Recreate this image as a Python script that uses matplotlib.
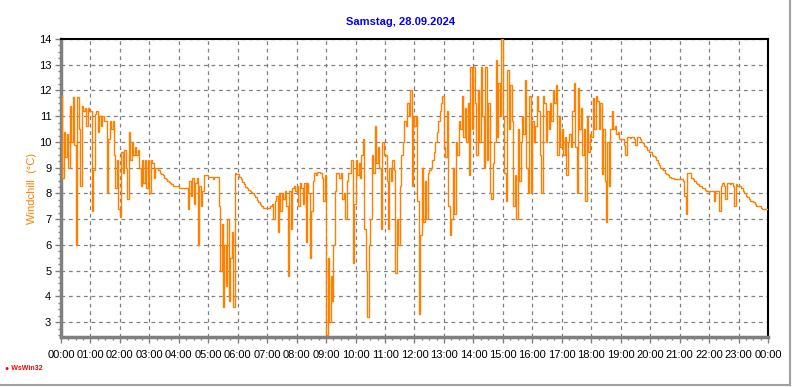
import numpy as np
import matplotlib
matplotlib.use("Agg")
import matplotlib.pyplot as plt
from matplotlib.lines import Line2D
from matplotlib.ticker import MultipleLocator

plt.rcParams["font.family"] = ["Liberation Sans", "DejaVu Sans"]

title = "Samstag, 28.09.2024"
ylabel = "Windchill  (°C)"
logo = "WsWin32"
xtick_labels = [f"{h:02d}:00" for h in range(24)] + ["00:00"]
ytick_values = list(range(3, 15))
step_minutes = 3

# Windchill readings (°C), one value per 3 minutes, grouped by hour
h00 = [11.8, 8.6, 10.4, 9.4, 10.3, 9.0, 11.4, 10.0, 11.75, 9.9, 6.0, 11.75, 10.5, 8.3, 11.4, 11.2, 11.3, 10.6, 11.3, 11.2]
h01 = [11.2, 7.3, 8.9, 11.1, 11.2, 10.4, 11.0, 10.6, 11.0, 10.8, 10.8, 8.0, 10.1, 10.8, 10.5, 10.8, 9.5, 8.2, 9.3, 7.4]
h02 = [7.1, 9.6, 8.8, 9.7, 9.0, 7.8, 10.4, 9.3, 10.0, 9.5, 9.8, 9.5, 9.7, 9.0, 8.3, 9.3, 8.4, 9.3, 8.2, 9.3]
h03 = [8.0, 9.3, 9.2, 8.6, 9.0, 9.0, 8.9, 8.8, 8.75, 8.7, 8.6, 8.55, 8.5, 8.45, 8.4, 8.35, 8.3, 8.3, 8.3, 8.3]
h04 = [8.2, 8.2, 8.2, 8.2, 8.2, 8.2, 7.4, 8.5, 7.9, 8.6, 7.6, 8.4, 8.6, 6.0, 8.3, 7.5, 8.1, 8.7, 8.7, 8.7]
h05 = [8.65, 8.65, 8.65, 8.55, 8.65, 8.65, 8.65, 7.5, 5.0, 6.8, 3.6, 6.0, 4.4, 7.0, 3.8, 5.5, 6.5, 3.6, 8.8, 8.75]
h06 = [8.75, 8.65, 8.55, 8.45, 8.35, 8.25, 8.2, 8.15, 8.1, 8.05, 8.0, 7.95, 7.85, 7.75, 7.65, 7.6, 7.5, 7.45, 7.45, 7.45]
h07 = [7.45, 7.45, 7.5, 7.6, 7.0, 7.7, 7.9, 6.5, 8.0, 7.3, 8.0, 7.8, 8.1, 7.5, 4.8, 8.1, 6.6, 8.2, 8.3, 8.1]
h08 = [8.3, 7.5, 8.4, 8.2, 7.6, 8.4, 6.1, 8.4, 8.0, 5.5, 7.3, 8.5, 8.8, 8.7, 8.85, 8.85, 8.8, 8.6, 7.7, 8.7]
h09 = [2.5, 5.5, 3.0, 4.8, 3.8, 6.0, 8.1, 8.8, 8.8, 8.6, 8.8, 7.8, 8.0, 7.0, 8.5, 8.8, 8.8, 9.3, 5.3, 7.6]
h10 = [9.3, 8.7, 9.2, 8.6, 9.5, 10.1, 6.6, 5.0, 3.2, 6.0, 7.0, 9.5, 8.8, 10.6, 9.2, 9.8, 9.0, 6.6, 10.0, 9.5]
h11 = [9.5, 8.5, 6.6, 9.0, 8.5, 9.3, 8.9, 4.9, 7.0, 6.0, 8.3, 9.5, 10.0, 10.8, 10.6, 11.5, 11.0, 12.0, 8.3, 11.0]
h12 = [10.6, 11.0, 7.7, 3.3, 6.4, 9.0, 6.9, 8.5, 7.0, 8.8, 8.9, 9.0, 9.3, 9.6, 10.0, 10.4, 10.8, 11.2, 11.5, 11.8]
h13 = [9.8, 9.4, 11.2, 7.5, 6.4, 7.0, 9.0, 7.2, 10.0, 9.5, 10.8, 10.5, 11.8, 10.2, 11.3, 10.0, 11.5, 8.7, 12.9, 10.5]
h14 = [12.9, 11.5, 9.5, 12.0, 10.0, 12.9, 11.0, 9.0, 12.9, 9.3, 11.5, 8.0, 7.8, 9.2, 10.0, 13.2, 10.2, 12.3, 11.0, 14.0]
h15 = [11.0, 8.8, 7.7, 12.8, 10.5, 12.2, 10.8, 7.5, 8.7, 7.0, 10.5, 8.5, 10.0, 11.0, 10.3, 12.4, 9.0, 8.0, 11.8, 8.0]
h16 = [10.8, 10.0, 10.6, 11.8, 11.2, 9.5, 8.0, 11.8, 11.5, 10.0, 11.2, 10.5, 11.5, 10.8, 12.0, 11.5, 12.2, 9.5, 11.0, 9.8]
h17 = [10.5, 9.5, 10.2, 8.7, 10.0, 10.3, 9.8, 11.2, 12.3, 9.8, 8.0, 12.1, 10.5, 11.3, 9.5, 10.5, 7.7, 11.0, 9.6, 10.3]
h18 = [10.2, 11.7, 10.5, 11.8, 11.6, 10.5, 11.5, 8.75, 10.5, 8.5, 6.9, 10.0, 8.3, 10.5, 11.2, 10.5, 10.6, 10.3, 10.4, 10.1]
h19 = [10.1, 10.1, 9.9, 9.5, 10.2, 10.2, 10.15, 10.2, 10.2, 10.1, 9.9, 10.2, 10.2, 10.1, 10.0, 9.95, 9.85, 9.8, 9.7, 9.6]
h20 = [9.6, 9.5, 9.45, 9.4, 9.3, 9.2, 9.1, 9.0, 8.95, 8.9, 8.8, 8.75, 8.7, 8.65, 8.6, 8.6, 8.55, 8.55, 8.55, 8.55]
h21 = [8.55, 8.55, 8.5, 7.9, 7.2, 8.8, 8.8, 8.8, 8.6, 8.55, 8.5, 8.4, 8.35, 8.3, 8.3, 8.2, 8.2, 8.15, 8.1, 8.1]
h22 = [8.1, 8.1, 8.1, 7.7, 8.1, 8.1, 8.1, 7.3, 8.3, 8.4, 8.3, 7.8, 8.4, 8.4, 8.35, 8.4, 8.3, 7.5, 8.35, 8.3]
h23 = [8.3, 8.3, 8.2, 8.1, 8.0, 7.9, 7.85, 7.8, 7.7, 7.7, 7.65, 7.6, 7.5, 7.5, 7.5, 7.45, 7.4, 7.4, 7.4, 7.4]

windchill = (h00 + h01 + h02 + h03 + h04 + h05 + h06 + h07 + h08 + h09 + h10 + h11
             + h12 + h13 + h14 + h15 + h16 + h17 + h18 + h19 + h20 + h21 + h22 + h23)
edges_hours = np.arange(len(windchill) + 1) * step_minutes / 60.0

W, H = 792, 387
fig = plt.figure(figsize=(W / 100, H / 100), dpi=100)
fig.patch.set_facecolor("white")
ax = fig.add_axes([61 / W, 1 - 337 / H, (768 - 61) / W, (337 - 39) / H])

ax.stairs(windchill, edges_hours, baseline=None, color="#FF8000", linewidth=1.0, zorder=3)

ax.set_xlim(0, 24)
ax.set_ylim(2.42, 14)

ax.set_xticks(range(25))
ax.set_xticklabels(xtick_labels)
ax.xaxis.set_minor_locator(MultipleLocator(0.25))
ax.set_yticks(ytick_values)
ax.yaxis.set_minor_locator(MultipleLocator(0.25))

ax.tick_params(axis="both", which="major", direction="out", length=4, width=1,
               color="#808080", labelsize=8, labelcolor="black", pad=3)
ax.tick_params(axis="both", which="minor", direction="out", length=2, width=1, color="#808080")
ax.tick_params(axis="x", pad=5)

ax.grid(True, which="major", color="#808080", linestyle=(0, (3, 3)), linewidth=0.9, zorder=1)

ax.spines["left"].set_color("#808080")
ax.spines["left"].set_linewidth(2.5)
ax.spines["bottom"].set_color("#808080")
ax.spines["bottom"].set_linewidth(2.5)
ax.spines["top"].set_color("black")
ax.spines["top"].set_linewidth(1.5)
ax.spines["right"].set_color("black")
ax.spines["right"].set_linewidth(1.5)

ax.set_ylabel(ylabel, color="#FF8000", fontsize=8, labelpad=1.5)

fig.text(401 / W, 1 - 22 / H, title, color="#0000FF", fontsize=8, fontweight="bold",
         ha="center", va="center")
fig.text(5 / W, 1 - 369 / H, "\u25CF " + logo, color="#FF0000", fontsize=5, fontweight="bold",
         ha="left", va="center")

fig.add_artist(Line2D([1 - 2 / W, 1 - 2 / W], [2 / H, 1], color="#A0A0A0", linewidth=1.5))
fig.add_artist(Line2D([0, 1 - 2 / W], [2 / H, 2 / H], color="#A0A0A0", linewidth=1.5))

fig.savefig("out.png", dpi=100)
